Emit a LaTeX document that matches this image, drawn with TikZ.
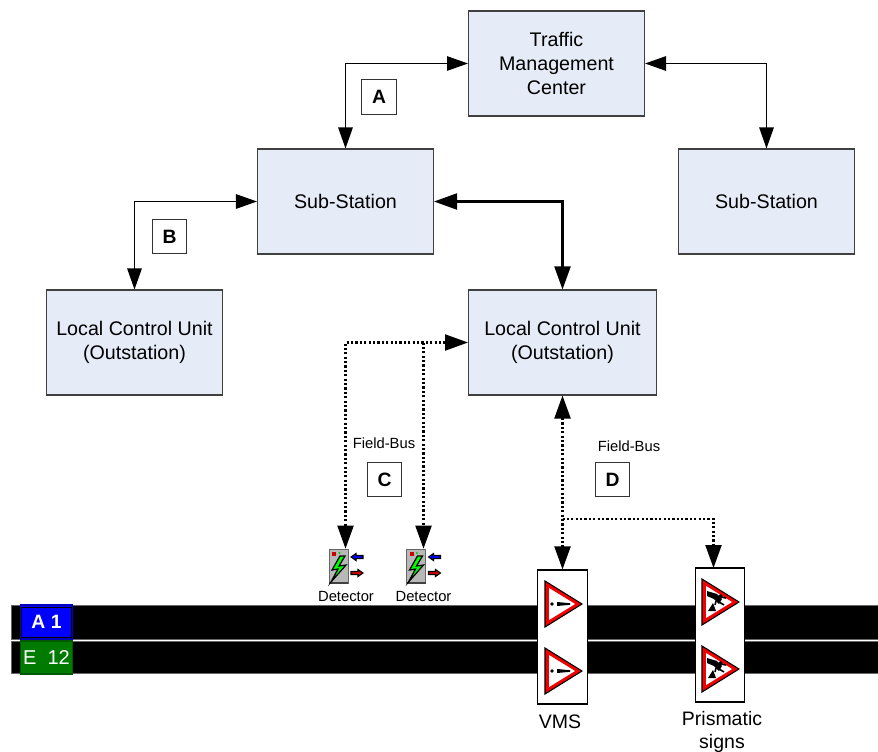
\documentclass[tikz,border=0pt]{standalone}
\usepackage{fontspec}
\setmainfont{Liberation Sans}
\usetikzlibrary{arrows.meta}

\definecolor{unitfill}{HTML}{E6ECF7}
\definecolor{signred}{HTML}{F00000}
\definecolor{roadgreen}{HTML}{007A00}

\tikzset{
  unit/.style={draw=black!75,fill=unitfill,line width=0.6pt,minimum width=3.52cm,minimum height=2.1cm,align=center,font=\fontsize{11.2}{13.6}\selectfont},
  letter/.style={draw=black!80,fill=white,line width=0.6pt,minimum size=0.69cm,inner sep=0pt,font=\bfseries\fontsize{11}{13}\selectfont},
  small/.style={inner sep=0pt,font=\fontsize{8.4}{10}\selectfont},
  big/.style={inner sep=0pt,align=center,font=\fontsize{11.1}{13.2}\selectfont},
  signbox/.style={draw=black,fill=white,line width=0.7pt,minimum width=0.99cm,minimum height=2.68cm},
  link/.style={line width=0.7pt,{Triangle[length=4.2mm,width=2.9mm]}-{Triangle[length=4.2mm,width=2.9mm]}},
  trunk/.style={line width=1.15pt,{Triangle[length=4.6mm,width=3.2mm]}-{Triangle[length=4.6mm,width=3.2mm]}},
  bus/.style={line width=1.2pt,dash pattern=on 1.25pt off 1.25pt},
  bustip/.style={-{Triangle[length=4.6mm,width=3.2mm]}},
  bustips/.style={{Triangle[length=4.6mm,width=3.2mm]}-{Triangle[length=4.6mm,width=3.2mm]}},
  road/.style={draw=black!60,fill=black,line width=0.4pt},
  plate/.style={text=white,minimum width=1.04cm,inner sep=0pt,line width=0.9pt},
}

\begin{document}
\begin{tikzpicture}[x=0.02cm,y=-0.02cm]
\useasboundingbox (0,0) rectangle (878,751);

% Road
\draw[road] (11,605) rectangle (878,639);
\draw[road] (11,641) rectangle (878,673);
\node[plate,draw=blue!75!black,fill=blue,minimum height=0.68cm,font=\bfseries\fontsize{11}{13}\selectfont] (roadA) at (46.5,622) {A 1};
\draw[black,line width=0.5pt] (21.5,607) rectangle (71.5,637);
\node[plate,draw=green!35!black,fill=roadgreen,minimum height=0.66cm,font=\fontsize{11.4}{13}\selectfont] (roadE) at (46.5,657.5) {E\ \ 12};

% Units
\node[unit] (tmc) at (556.5,63.5) {Traffic\\Management\\Center};
\node[unit] (sub1) at (345.5,201.5) {Sub-Station};
\node[unit] (sub2) at (766.5,201.5) {Sub-Station};
\node[unit] (lcu1) at (134.5,342.5) {Local Control Unit\\(Outstation)};
\node[unit,minimum width=3.76cm] (lcu2) at (562.5,342.5) {Local Control Unit\\(Outstation)};

% Letters
\node[letter] (lettA) at (379,97) {A};
\node[letter] (lettB) at (169.5,236.5) {B};
\node[letter] (lettC) at (384.5,479.5) {C};
\node[letter] (lettD) at (612.5,479.5) {D};
\node[small] (busC) at (384,443) {Field-Bus};
\node[small] (busD) at (629,446) {Field-Bus};

% Signs
\node[signbox] (vms) at (562.5,637) {};
\node[signbox] (prism) at (720,635) {};
\node[big] (vmstext) at (560,722) {VMS};
\node[big] (prismtext) at (722,732) {Prismatic\\signs};
\foreach \x/\y in {545/604,545/671,702/602,702/669} {
  \draw[fill=signred,line width=0.6pt,line join=miter] (\x,\y-23) -- (\x+37,\y) -- (\x,\y+23) -- cycle;
  \fill[white] (\x+4,\y-16) -- (\x+30,\y) -- (\x+4,\y+16) -- cycle;
}
% Exclamation marks
\foreach \y in {604,671} {
  \fill (552,\y) circle (1.8);
  \fill (557,\y-2) -- (570,\y-0.8) -- (570,\y+0.8) -- (557,\y+2) -- cycle;
}
% Workers
\foreach \y in {602,669} {
  \fill (708,\y+9) -- (713,\y+1) -- (716,\y+9) -- cycle;
  \fill (720.5,\y-5.5) circle (2.2);
  \fill (707,\y-11) -- (717,\y-8) -- (722,\y-3) -- (719,\y+2) -- (714,\y-3) -- (707,\y-6) -- cycle;
  \draw[line width=0.9pt] (719,\y) -- (724,\y+3) (716,\y-1) -- (715,\y+3) (721,\y-5) -- (726,\y-4);
}

% Detectors
\node[inner sep=0pt,minimum width=0.68cm,minimum height=0.68cm] (det1) at (345.5,566) {};
\node[inner sep=0pt,minimum width=0.68cm,minimum height=0.68cm] (det2) at (423.5,566) {};
\node[small] (dettext1) at (346,596) {Detector};
\node[small] (dettext2) at (423.5,596) {Detector};
\foreach \x in {329,406.5} {
  \draw[fill=black!28,draw=black!60,line width=0.5pt] (\x,549.5) rectangle (\x+19,583);
  \draw[black!75,line width=0.9pt] (\x,583) -- (\x+19,583);
  \fill[red!80!black] (\x+3,552) rectangle (\x+7,556);
  \fill[green!80!black] (\x+10.5,553) circle (1.2);
  \draw[fill=green,line width=0.7pt,line join=miter] (\x+11,556) -- (\x+3,570) -- (\x+9,569) -- (\x+2,582) -- (\x+17,565) -- (\x+10,566) -- (\x+16,556) -- cycle;
  \draw[black,fill=blue,line width=0.6pt] (\x+22,557) -- (\x+27,553.5) -- (\x+27,555.5) -- (\x+34,555.5) -- (\x+34,558.5) -- (\x+27,558.5) -- (\x+27,560.5) -- cycle;
  \draw[black,fill=red!85!black,line width=0.6pt] (\x+34,573) -- (\x+29,569.5) -- (\x+29,571.5) -- (\x+22,571.5) -- (\x+22,574.5) -- (\x+29,574.5) -- (\x+29,576.5) -- cycle;
}

% Connections
\draw[link] (tmc.west) -| (sub1.north);
\draw[link] (tmc.east) -| (sub2.north);
\draw[link] (sub1.west) -| (lcu1.north);
\draw[trunk] (sub1.east) -| (lcu2.north);

% Field bus
\coordinate (busfork) at (562.5,519);
\coordinate (prismtop) at (713.5,568);
\draw[bus,bustips] (lcu2.west) -| (det1.north);
\draw[bus,bustip] (det2.north |- lcu2.west) -- (det2.north);
\draw[bus,bustips] (lcu2.south) -- (vms.north);
\draw[bus,bustip] (busfork) -| (prismtop);
\end{tikzpicture}
\end{document}
